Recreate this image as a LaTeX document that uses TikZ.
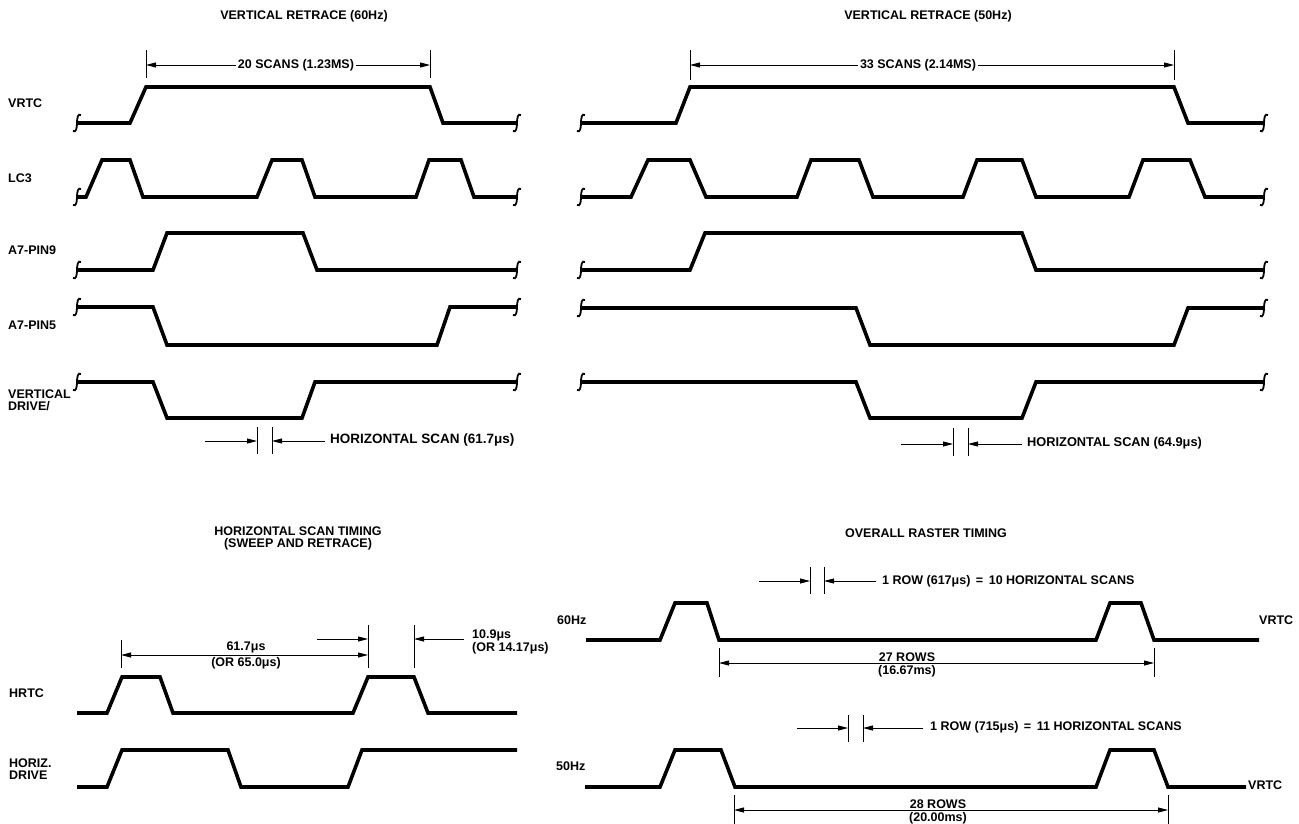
\documentclass[tikz,border=0pt]{standalone}
\usepackage{fontspec}
\setmainfont{Liberation Sans}
\usetikzlibrary{arrows.meta}
\begin{document}
\begin{tikzpicture}[x=1pt,y=-1pt,
  sig/.style={line width=3.6pt, line join=miter, line cap=butt},
  tk/.style={line width=0.9pt},
  dimr/.style={line width=0.9pt, -{Triangle[length=10pt,width=5pt]}},
  dimb/.style={line width=0.9pt, {Triangle[length=10pt,width=5pt]}-{Triangle[length=10pt,width=5pt]}},
  lbl/.style={font=\fontsize{12.5}{12}\selectfont\bfseries, inner sep=0pt, align=left},
  ttl/.style={font=\fontsize{12.5}{12}\selectfont\bfseries, inner sep=0pt, align=center},
  intm/.pic={\draw[line width=1.8pt] (4,-8) .. controls (1,-10) and (0,-5) .. (0,0) .. controls (0,5) and (-1,10) .. (-4,8);}
]
\fill[white] (0,0) rectangle (1299,824);
\useasboundingbox (0,0) rectangle (1299,824);

% ================= TOP LEFT: VERTICAL RETRACE (60Hz) =================
\node[ttl] (tl) at (304,16) {VERTICAL RETRACE (60Hz)};
\coordinate (a1t) at (146,50); \coordinate (a1b) at (146,78);
\coordinate (a2t) at (430,50); \coordinate (a2b) at (430,78);
\draw[tk] (a1t) -- (a1b); \draw[tk] (a2t) -- (a2b);
\coordinate (a1m) at (146,65); \coordinate (a2m) at (430,65);
\draw[dimb] (a1m) -- (a2m);
\node[ttl, fill=white, inner xsep=2pt, inner ysep=1pt] (a1x) at (296,65) {20 SCANS (1.23MS)};

\node[lbl, anchor=mid west] (lvrtc) at (8,105) {VRTC};
\node[lbl, anchor=mid west] (llc3) at (8,180) {LC3};
\node[lbl, anchor=mid west] (lp9) at (8,252) {A7-PIN9};
\node[lbl, anchor=mid west] (lp5) at (8,327) {A7-PIN5};
\node[lbl, anchor=west] (lvd) at (8,400) {VERTICAL\\DRIVE/};

\draw[sig] (77,123) -- (130,123) -- (146,87) -- (430,87) -- (443,123) -- (517,123);
\draw[sig] (77,197) -- (86,197) -- (102,160) -- (130,160) -- (143,197) -- (257,197) -- (272,160) -- (302,160) -- (315,197) -- (416,197) -- (429,160) -- (461,160) -- (474,197) -- (517,197);
\draw[sig] (77,270) -- (153,270) -- (167,233) -- (303,233) -- (317,270) -- (517,270);
\draw[sig] (77,307) -- (153,307) -- (167,345) -- (437,345) -- (450,307) -- (517,307);
\draw[sig] (77,382) -- (153,382) -- (167,418) -- (302,418) -- (315,382) -- (517,382);
\foreach \yy in {123,197,270,307,382} {\pic at (77,\yy) {intm}; \pic at (517,\yy) {intm};}

\coordinate (h1t) at (257,427); \coordinate (h1b) at (257,454);
\coordinate (h2t) at (272,427); \coordinate (h2b) at (272,454);
\draw[tk] (h1t) -- (h1b); \draw[tk] (h2t) -- (h2b);
\coordinate (h1s) at (205,441); \coordinate (h1e) at (257,441);
\coordinate (h2s) at (325,441); \coordinate (h2e) at (272,441);
\draw[dimr] (h1s) -- (h1e); \draw[dimr] (h2s) -- (h2e);
\node[lbl, anchor=mid west, font=\fontsize{13.5}{13}\selectfont\bfseries] (h1x) at (330,441) {HORIZONTAL SCAN (61.7μs)};

% ================= TOP RIGHT: VERTICAL RETRACE (50Hz) =================
\node[ttl] (tr) at (928,16) {VERTICAL RETRACE (50Hz)};
\coordinate (b1t) at (690,50); \coordinate (b1b) at (690,80);
\coordinate (b2t) at (1174,50); \coordinate (b2b) at (1174,80);
\draw[tk] (b1t) -- (b1b); \draw[tk] (b2t) -- (b2b);
\coordinate (b1m) at (690,65); \coordinate (b2m) at (1174,65);
\draw[dimb] (b1m) -- (b2m);
\node[ttl, fill=white, inner xsep=2pt, inner ysep=1pt] (b1x) at (918,65) {33 SCANS (2.14MS)};

\draw[sig] (581,123) -- (676,123) -- (690,87) -- (1174,87) -- (1188,123) -- (1264,123);
\draw[sig] (581,197) -- (631,197) -- (648,160) -- (690,160) -- (706,197) -- (797,197) -- (811,160) -- (859,160) -- (873,197) -- (963,197) -- (977,160) -- (1022,160) -- (1036,197) -- (1129,197) -- (1143,160) -- (1190,160) -- (1205,197) -- (1264,197);
\draw[sig] (581,270) -- (690,270) -- (705,233) -- (1022,233) -- (1036,270) -- (1264,270);
\draw[sig] (581,308) -- (856,308) -- (870,345) -- (1174,345) -- (1188,308) -- (1264,308);
\draw[sig] (581,382) -- (856,382) -- (870,418) -- (1022,418) -- (1036,382) -- (1264,382);
\foreach \yy in {123,197,270,308,382} {\pic at (581,\yy) {intm}; \pic at (1264,\yy) {intm};}

\coordinate (k1t) at (953,428); \coordinate (k1b) at (953,456);
\coordinate (k2t) at (968,428); \coordinate (k2b) at (968,456);
\draw[tk] (k1t) -- (k1b); \draw[tk] (k2t) -- (k2b);
\coordinate (k1s) at (901,444); \coordinate (k1e) at (953,444);
\coordinate (k2s) at (1022,444); \coordinate (k2e) at (968,444);
\draw[dimr] (k1s) -- (k1e); \draw[dimr] (k2s) -- (k2e);
\node[lbl, anchor=mid west, font=\fontsize{12.8}{13}\selectfont\bfseries] (k1x) at (1027,444) {HORIZONTAL SCAN (64.9μs)};

% ================= BOTTOM LEFT: HORIZONTAL SCAN TIMING =================
\node[ttl] (bl) at (298,538) {HORIZONTAL SCAN TIMING\\(SWEEP AND RETRACE)};
\node[lbl, anchor=mid west] (lhrtc) at (9,695) {HRTC};
\node[lbl, anchor=west] (lhd) at (9,769) {HORIZ.\\DRIVE};

\draw[sig] (77,713) -- (107,713) -- (122,677) -- (160,677) -- (173,713) -- (353,713) -- (368,677) -- (414,677) -- (428,713) -- (517,713);
\draw[sig] (77,787) -- (107,787) -- (122,750) -- (228,750) -- (241,787) -- (348,787) -- (362,750) -- (517,750);

\coordinate (c1t) at (121,640); \coordinate (c1b) at (121,668);
\coordinate (c2t) at (368,625); \coordinate (c2b) at (368,668);
\coordinate (c3t) at (414,625); \coordinate (c3b) at (414,668);
\draw[tk] (c1t) -- (c1b); \draw[tk] (c2t) -- (c2b); \draw[tk] (c3t) -- (c3b);
\coordinate (c1m) at (121,655); \coordinate (c2m) at (368,655);
\draw[dimb] (c1m) -- (c2m);
\node[ttl, anchor=south, fill=white, inner xsep=2pt, inner ysep=0.5pt] (c1x) at (246,654) {61.7μs};
\node[ttl, anchor=north, inner ysep=1pt] (c1y) at (246,656) {(OR 65.0μs)};
\coordinate (c4s) at (317,639); \coordinate (c4e) at (368,639);
\coordinate (c5s) at (464,639); \coordinate (c5e) at (414,639);
\draw[dimr] (c4s) -- (c4e); \draw[dimr] (c5s) -- (c5e);
\node[lbl, anchor=mid west] (c5x) at (472,636) {10.9μs};
\node[lbl, anchor=mid west] (c5y) at (472,649) {(OR 14.17μs)};

% ================= BOTTOM RIGHT: OVERALL RASTER TIMING =================
\node[ttl] (br) at (926,533) {OVERALL RASTER TIMING};

\coordinate (m1t) at (810,567); \coordinate (m1b) at (810,594);
\coordinate (m2t) at (824,567); \coordinate (m2b) at (824,594);
\draw[tk] (m1t) -- (m1b); \draw[tk] (m2t) -- (m2b);
\coordinate (m1s) at (759,581); \coordinate (m1e) at (810,581);
\coordinate (m2s) at (876,581); \coordinate (m2e) at (824,581);
\draw[dimr] (m1s) -- (m1e); \draw[dimr] (m2s) -- (m2e);
\node[lbl, anchor=mid west] (m1x) at (882,582) {1 ROW (617μs) \,=\, 10 HORIZONTAL SCANS};

\node[lbl, anchor=mid west] (l60) at (557,622) {60Hz};
\draw[sig] (586,640) -- (660,640) -- (675,603) -- (707,603) -- (719,640) -- (1096,640) -- (1110,603) -- (1141,603) -- (1154,640) -- (1259,640);
\node[lbl, anchor=mid west] (r60) at (1259,622) {VRTC};

\coordinate (n1t) at (719,648); \coordinate (n1b) at (719,677);
\coordinate (n2t) at (1154,648); \coordinate (n2b) at (1154,677);
\draw[tk] (n1t) -- (n1b); \draw[tk] (n2t) -- (n2b);
\coordinate (n1m) at (719,663); \coordinate (n2m) at (1154,663);
\draw[dimb] (n1m) -- (n2m);
\node[ttl, anchor=south, fill=white, inner xsep=2pt, inner ysep=0.5pt] (n1x) at (907,662) {27 ROWS};
\node[ttl, anchor=north, inner ysep=1pt] (n1y) at (907,664) {(16.67ms)};

\coordinate (p1t) at (848,715); \coordinate (p1b) at (848,742);
\coordinate (p2t) at (863,715); \coordinate (p2b) at (863,742);
\draw[tk] (p1t) -- (p1b); \draw[tk] (p2t) -- (p2b);
\coordinate (p1s) at (797,728); \coordinate (p1e) at (848,728);
\coordinate (p2s) at (923,728); \coordinate (p2e) at (863,728);
\draw[dimr] (p1s) -- (p1e); \draw[dimr] (p2s) -- (p2e);
\node[lbl, anchor=mid west] (p1x) at (930,728) {1 ROW (715μs) \,=\, 11 HORIZONTAL SCANS};

\node[lbl, anchor=mid west] (l50) at (556,768) {50Hz};
\draw[sig] (585,787) -- (660,787) -- (675,750) -- (721,750) -- (735,787) -- (1096,787) -- (1110,750) -- (1154,750) -- (1168,787) -- (1246,787);
\node[lbl, anchor=mid west] (r50) at (1248,787) {VRTC};

\coordinate (q1t) at (734,795); \coordinate (q1b) at (734,824);
\coordinate (q2t) at (1168,795); \coordinate (q2b) at (1168,824);
\draw[tk] (q1t) -- (q1b); \draw[tk] (q2t) -- (q2b);
\coordinate (q1m) at (734,810); \coordinate (q2m) at (1168,810);
\draw[dimb] (q1m) -- (q2m);
\node[ttl, anchor=south, fill=white, inner xsep=2pt, inner ysep=0.5pt] (q1x) at (938,809) {28 ROWS};
\node[ttl, anchor=north, inner ysep=1pt] (q1y) at (938,811) {(20.00ms)};
\end{tikzpicture}
\end{document}
